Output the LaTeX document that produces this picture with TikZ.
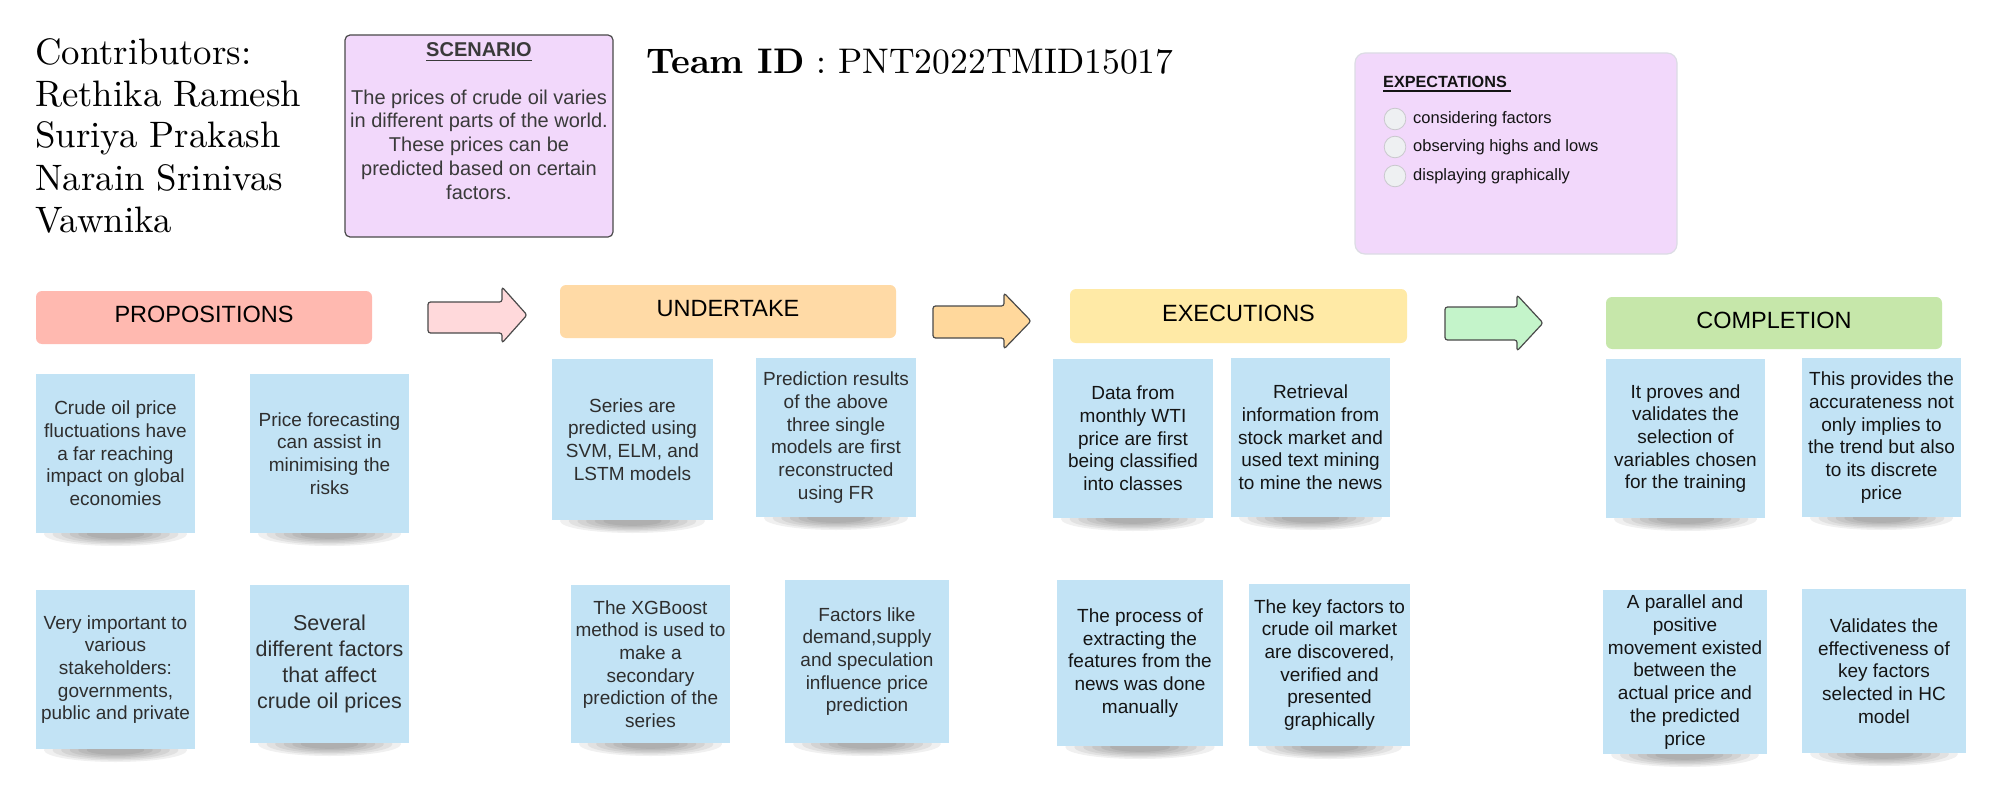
\documentclass[tikz,border=0pt]{standalone}
\usepackage{fontspec}
\newfontfamily\arialf{Liberation Sans}
\newfontfamily\lmten{lmroman10-regular.otf}[BoldFont=lmroman10-bold.otf]
\usetikzlibrary{calc}
\definecolor{notefill}{HTML}{C2E3F5}
\definecolor{notetxt}{HTML}{2E2E2E}
\definecolor{notetxtb}{HTML}{141414}
\definecolor{propfill}{HTML}{FFB9B0}
\definecolor{undfill}{HTML}{FFDAA6}
\definecolor{exefill}{HTML}{FFEAA6}
\definecolor{compfill}{HTML}{C6E7AA}
\definecolor{arrA}{HTML}{FFD9DB}
\definecolor{arrB}{HTML}{FFD89C}
\definecolor{arrC}{HTML}{C4F4CA}
\definecolor{purp}{HTML}{F2D8FB}
\definecolor{scenline}{HTML}{4A4A4A}
\definecolor{expline}{HTML}{DCDCE4}
\definecolor{radfill}{HTML}{EEF0F2}
\definecolor{radline}{HTML}{C8C8CC}
\definecolor{scentxt}{HTML}{3A3A3A}
\definecolor{arrline}{HTML}{4A4A4A}

\tikzset{
  sticky/.style={fill=notefill, inner sep=0pt, align=center, text=notetxt},
  header/.style={rounded corners=6pt, inner sep=0pt, text depth=6pt, font=\arialf\fontsize{23.5}{28}\selectfont},
  blockarrow/.style={draw=arrline, line width=1.2pt, rounded corners=2.5pt, line join=round},
  contrib/.style={anchor=base west, inner sep=0pt, font=\lmten\fontsize{36.8}{41}\selectfont},
  radio/.style={circle, fill=radfill, draw=radline, line width=0.8pt, minimum size=21.6pt, inner sep=0pt},
  exptext/.style={anchor=base west, inner sep=0pt, text=notetxtb, font=\arialf\fontsize{16.5}{19}\selectfont}
}

% name, x1, y1, x2, y2, size, skip, text
\newcommand\stickynote[8]{%
  \foreach \k in {0,...,5}{\fill[black,opacity=0.06] ({(#2+#4)/2},{#5+1}) ellipse [x radius={(#4-#2)*0.45*(1-0.12*\k)}, y radius={12*(1-0.12*\k)}];}
  \node[sticky, minimum width={#4-#2}, minimum height={#5-#3}, font=\arialf\fontsize{#6}{#7}\selectfont] (#1) at ({(#2+#4)/2},{(#3+#5)/2}) {#8};
}
% x1, xtip, xhead, ys1, ys2, yh1, yh2, fill
\newcommand\blockarr[8]{%
  \draw[blockarrow, fill=#8] (#1,#4) -- (#3,#4) -- (#3,#6) -- (#2,{(#6+#7)/2}) -- (#3,#7) -- (#3,#5) -- (#1,#5) -- cycle;
}

\begin{document}
\begin{tikzpicture}[x=1pt,y=-1pt]
\useasboundingbox[fill=white] (0,0) rectangle (2000,789);

% contributors
\node[contrib] (c1) at (35,65) {Contributors:};
\node[contrib] (c2) at (35,107) {Rethika Ramesh};
\node[contrib] (c3) at (35,148) {Suriya Prakash};
\node[contrib] (c4) at (35,190) {Narain Srinivas};
\node[contrib] (c5) at (35,232) {Vawnika};

% team id
\node[anchor=base west, inner sep=0pt, font=\lmten\fontsize{35.6}{40}\selectfont] (team) at (646,74) {\textbf{Team ID} : PNT2022TMID15017};

% scenario
\draw[fill=purp, draw=scenline, line width=1.2pt, rounded corners=5pt] (345,35) rectangle (613,237);
\node[anchor=base, inner sep=0pt, text=scentxt, font=\arialf\bfseries\fontsize{20}{24}\selectfont] (scent) at (479,57) {SCENARIO};
\draw[scentxt, line width=1.5pt] ($(scent.base west)+(0,3.5)$) -- ($(scent.base east)+(0,3.5)$);
\node[inner sep=0pt, align=center, text=scentxt, font=\arialf\fontsize{20}{23.75}\selectfont] (scenb) at (479,144.5) {The prices of crude oil varies\\in different parts of the world.\\These prices can be\\predicted based on certain\\factors.};

% expectations
\draw[fill=purp, draw=expline, line width=1.2pt, rounded corners=10pt] (1355,53) rectangle (1677,254);
\node[anchor=base west, inner sep=0pt, text=notetxtb, font=\arialf\bfseries\fontsize{16.2}{19}\selectfont] (expt) at (1383,88) {EXPECTATIONS};
\draw[notetxtb, line width=1.3pt] ($(expt.base west)+(0,3)$) -- ($(expt.base east)+(4,3)$);
\node[radio] (r1) at (1395,119) {};
\node[radio] (r2) at (1395,147) {};
\node[radio] (r3) at (1395,176) {};
\node[exptext] (e1) at (1413,123.3) {considering factors};
\node[exptext] (e2) at (1413,151.3) {observing highs and lows};
\node[exptext] (e3) at (1413,180.3) {displaying graphically};

% headers
\node[header, fill=propfill, minimum width=336pt, minimum height=53pt] (hprop) at (204,317.5) {PROPOSITIONS};
\node[header, fill=undfill, minimum width=336pt, minimum height=53pt] (hund) at (728,311.5) {UNDERTAKE};
\node[header, fill=exefill, minimum width=337pt, minimum height=54pt] (hexe) at (1238.5,316) {EXECUTIONS};
\node[header, fill=compfill, minimum width=336pt, minimum height=52pt] (hcomp) at (1774,323) {COMPLETION};

% arrows
\blockarr{428}{527}{502}{302}{333}{287}{343}{arrA}
\blockarr{933}{1031}{1004}{306}{338}{293}{349}{arrB}
\blockarr{1445}{1543}{1517}{307}{340}{295}{351}{arrC}

% propositions notes
\stickynote{n1}{36}{374}{195}{533}{19}{22.7}{Crude oil price\\fluctuations have\\a far reaching\\impact on global\\economies}
\stickynote{n2}{250}{374}{409}{533}{19}{22.7}{Price forecasting\\can assist in\\minimising the\\risks}
\stickynote{n3}{36}{590}{195}{749}{19}{22.7}{Very important to\\various\\stakeholders:\\governments,\\public and private}
\stickynote{n4}{250}{585}{409}{743}{21.5}{26}{Several\\different factors\\that affect\\crude oil prices}

% undertake notes
\stickynote{n5}{552}{359}{713}{520}{19}{22.7}{Series are\\predicted using\\SVM, ELM, and\\LSTM models}
\stickynote{n6}{756}{358}{916}{517}{19}{22.7}{Prediction results\\of the above\\three single\\models are first\\reconstructed\\using FR}
\stickynote{n7}{571}{585}{730}{743}{19}{22.7}{The XGBoost\\method is used to\\make a\\secondary\\prediction of the\\series}
\stickynote{n8}{785}{580}{949}{743}{19}{22.7}{Factors like\\demand,supply\\and speculation\\influence price\\prediction}

% execution notes
\tikzset{sticky/.append style={text=notetxtb}}
\stickynote{n9}{1053}{359}{1213}{518}{19}{22.7}{Data from\\monthly WTI\\price are first\\being classified\\into classes}
\stickynote{n10}{1231}{358}{1390}{517}{19}{22.7}{Retrieval\\information from\\stock market and\\used text mining\\to mine the news}
\stickynote{n11}{1057}{580}{1223}{746}{19}{22.7}{The process of\\extracting the\\features from the\\news was done\\manually}
\stickynote{n12}{1249}{584}{1410}{746}{19}{22.7}{The key factors to\\crude oil market\\are discovered,\\verified and\\presented\\graphically}

% completion notes
\stickynote{n13}{1606}{359}{1765}{518}{19}{22.7}{It proves and\\validates the\\selection of\\variables chosen\\for the training}
\stickynote{n14}{1802}{358}{1961}{517}{19}{22.7}{This provides the\\accurateness not\\only implies to\\the trend but also\\to its discrete\\price}
\stickynote{n15}{1603}{590}{1767}{754}{19}{22.9}{A parallel and\\positive\\movement existed\\between the\\actual price and\\the predicted\\price}
\stickynote{n16}{1802}{589}{1966}{753}{19}{22.7}{Validates the\\effectiveness of\\key factors\\selected in HC\\model}
\end{tikzpicture}
\end{document}
